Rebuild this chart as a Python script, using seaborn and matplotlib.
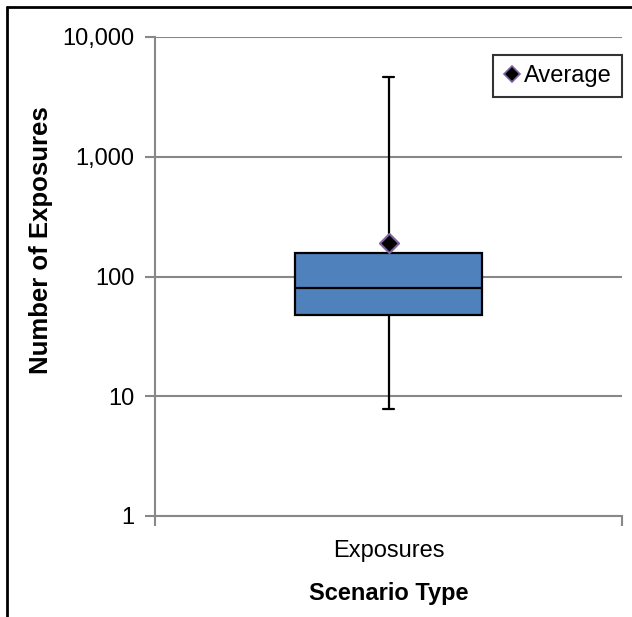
import numpy as np
import pandas as pd
import matplotlib
matplotlib.use("Agg")
import matplotlib.pyplot as plt
import seaborn as sns
from matplotlib.lines import Line2D
from matplotlib.ticker import FixedLocator, FixedFormatter, NullLocator

sns.set_style("white")
plt.rcParams['font.family'] = ['Liberation Sans', 'DejaVu Sans']
plt.rcParams['text.color'] = 'black'
plt.rcParams['axes.labelcolor'] = 'black'

category = ["Exposures"]
box_stats = [7.8, 48, 80, 158, 4640]   # min, Q1, median, Q3, max
average = [192]
ytick_values = [1, 10, 100, 1000, 10000]
ytick_labels = ["1", "10", "100", "1,000", "10,000"]

df = pd.DataFrame({"cat": category * len(box_stats), "val": box_stats})
df_avg = pd.DataFrame({"cat": category, "val": average})

FS = 17

fig = plt.figure(figsize=(6.32, 6.17), dpi=100)
ax = fig.add_axes([155/632, 1-516/617, (622-155)/632, (516-37)/617])

sns.boxplot(data=df, x="cat", y="val", whis=np.inf, width=0.4,
            color="#4F81BD", linecolor="black", linewidth=1.6,
            log_scale=True, ax=ax, saturation=1,
            capprops=dict(linewidth=1.6), whiskerprops=dict(linewidth=1.6),
            medianprops=dict(linewidth=1.6, color="black"))
# narrow caps
for line in ax.lines:
    xd = np.asarray(line.get_xdata(), dtype=float)
    if len(xd) == 2 and 0 < abs(xd[1]-xd[0]) < 0.3:
        c = (xd[0]+xd[1])/2
        line.set_xdata([c-0.0125, c+0.0125])

sns.scatterplot(data=df_avg, x="cat", y="val", marker="D", s=95, color="black",
                edgecolor="#8064A2", linewidth=1.5, ax=ax, zorder=5, legend=False)

ax.set_yscale("log")
ax.set_ylim(1, 10000)
ax.set_xlim(-0.5, 0.5)
ax.yaxis.set_major_locator(FixedLocator(ytick_values))
ax.yaxis.set_major_formatter(FixedFormatter(ytick_labels))
ax.yaxis.set_minor_locator(NullLocator())
ax.grid(axis="y", color="#888888", linewidth=1.5)
ax.set_axisbelow(True)

for s in ["top", "right"]:
    ax.spines[s].set_visible(False)
for s in ["left", "bottom"]:
    ax.spines[s].set_color("#888888")
    ax.spines[s].set_linewidth(1.5)

ax.tick_params(axis="y", left=True, length=7, width=1.5, color="#888888",
               labelsize=FS, pad=8, labelcolor="black")
ax.set_xticks([0])
ax.set_xticklabels(category)
ax.tick_params(axis="x", bottom=False, labelsize=FS, pad=14, labelcolor="black")
ax.set_xticks([-0.5, 0.5], minor=True)
ax.tick_params(axis="x", which="minor", bottom=True, length=7, width=1.5, color="#888888", direction="out")

ax.set_xlabel("Scenario Type", fontsize=FS, fontweight="bold", labelpad=14)
ax.set_ylabel("Number of Exposures", fontsize=18.5, fontweight="bold")
ax.yaxis.set_label_coords((53-155)/467, (516-240)/479)

handle = Line2D([], [], marker="D", linestyle="none", markersize=8,
                markerfacecolor="black", markeredgecolor="#8064A2", markeredgewidth=1.2)
leg = ax.legend([handle], ["Average"], loc="upper right", bbox_to_anchor=(1.0, 0.962),
                fontsize=FS, frameon=True, fancybox=False, handlelength=0.75,
                handletextpad=0.15, borderpad=0.42, borderaxespad=0.0)
leg.get_frame().set_edgecolor("black")
leg.get_frame().set_linewidth(1.5)

# figure border (top and left)
fig.add_artist(Line2D([7/632, 1], [1-7/617, 1-7/617], color="black", linewidth=2, transform=fig.transFigure))
fig.add_artist(Line2D([7/632, 7/632], [0, 1-7/617], color="black", linewidth=2, transform=fig.transFigure))

fig.savefig("out.png", dpi=100)
